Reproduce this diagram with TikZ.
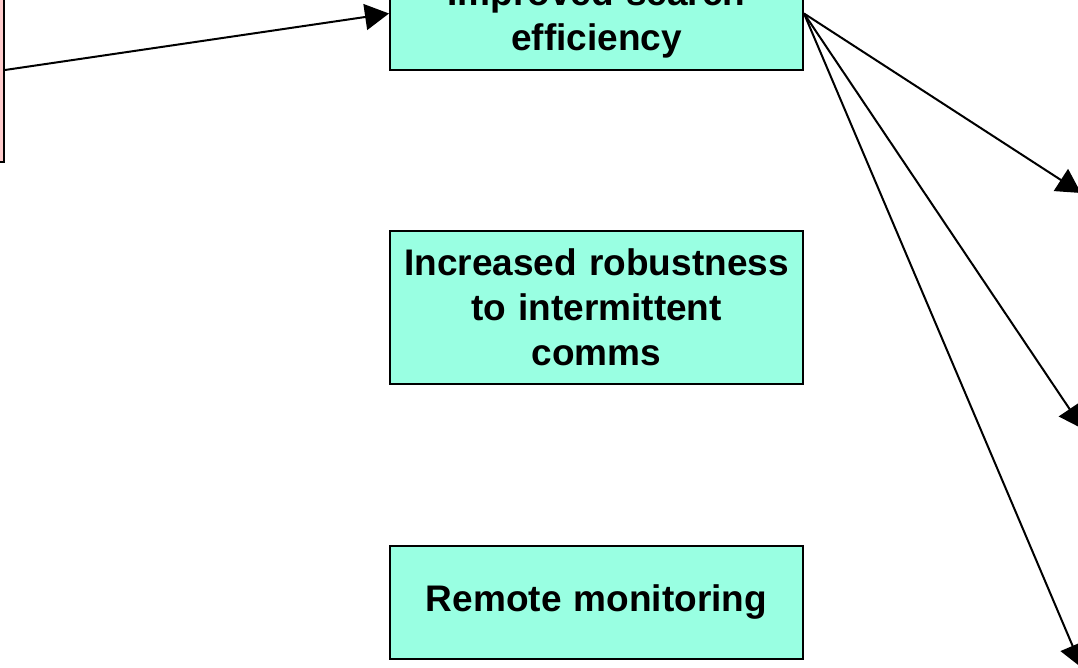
\documentclass[tikz,border=0pt]{standalone}
\usepackage{fontspec}
\setmainfont{Liberation Sans}
\usepackage{tikz}
\usetikzlibrary{arrows.meta, positioning}
\definecolor{myaqua}{RGB}{153,255,226}
\definecolor{mypink}{RGB}{255,204,204}
\definecolor{mydark}{RGB}{0,0,0}
\tikzset{
  goalbox/.style={rectangle, draw=mydark, fill=myaqua,
    minimum width=206.5pt, minimum height=56.5pt, text width=196pt,
    align=center, line width=1pt, inner sep=0pt,
    font=\fontsize{18.5}{22.5}\selectfont\bfseries},
  srcbox/.style={rectangle, draw=mydark, fill=mypink,
    minimum width=100pt, minimum height=92pt, line width=1pt},
  arrow/.style={-{Triangle[length=12pt,width=13pt]}, line width=1pt, color=mydark}
}
\begin{document}
\begin{tikzpicture}[x=0.5pt, y=-0.5pt]
  \clip (0,0) rectangle (1078,668);
  % goal boxes
  \node[goalbox, text height=18.5pt, text depth=26.4pt] (search) at (596.5,13.5)
    {Improved search\\efficiency};
  \node[goalbox, minimum height=76.5pt, below=79.5pt of search] (robust)
    {Increased robustness\\to intermittent\\comms};
  \node[goalbox, below=80pt of robust] (monitor) {Remote monitoring};
  % source box at left edge
  \node[srcbox, anchor=east] (source) at (5,70) {};
  % off-page targets
  \coordinate (tgtA) at (1081,193);
  \coordinate (tgtB) at (1083,429);
  \coordinate (tgtC) at (1082,668);
  % connectors
  \draw[arrow] (source.east) -- (search.west);
  \draw[arrow] (search.east) -- (tgtA);
  \draw[arrow] (search.east) -- (tgtB);
  \draw[arrow] (search.east) -- (tgtC);
\end{tikzpicture}
\end{document}
